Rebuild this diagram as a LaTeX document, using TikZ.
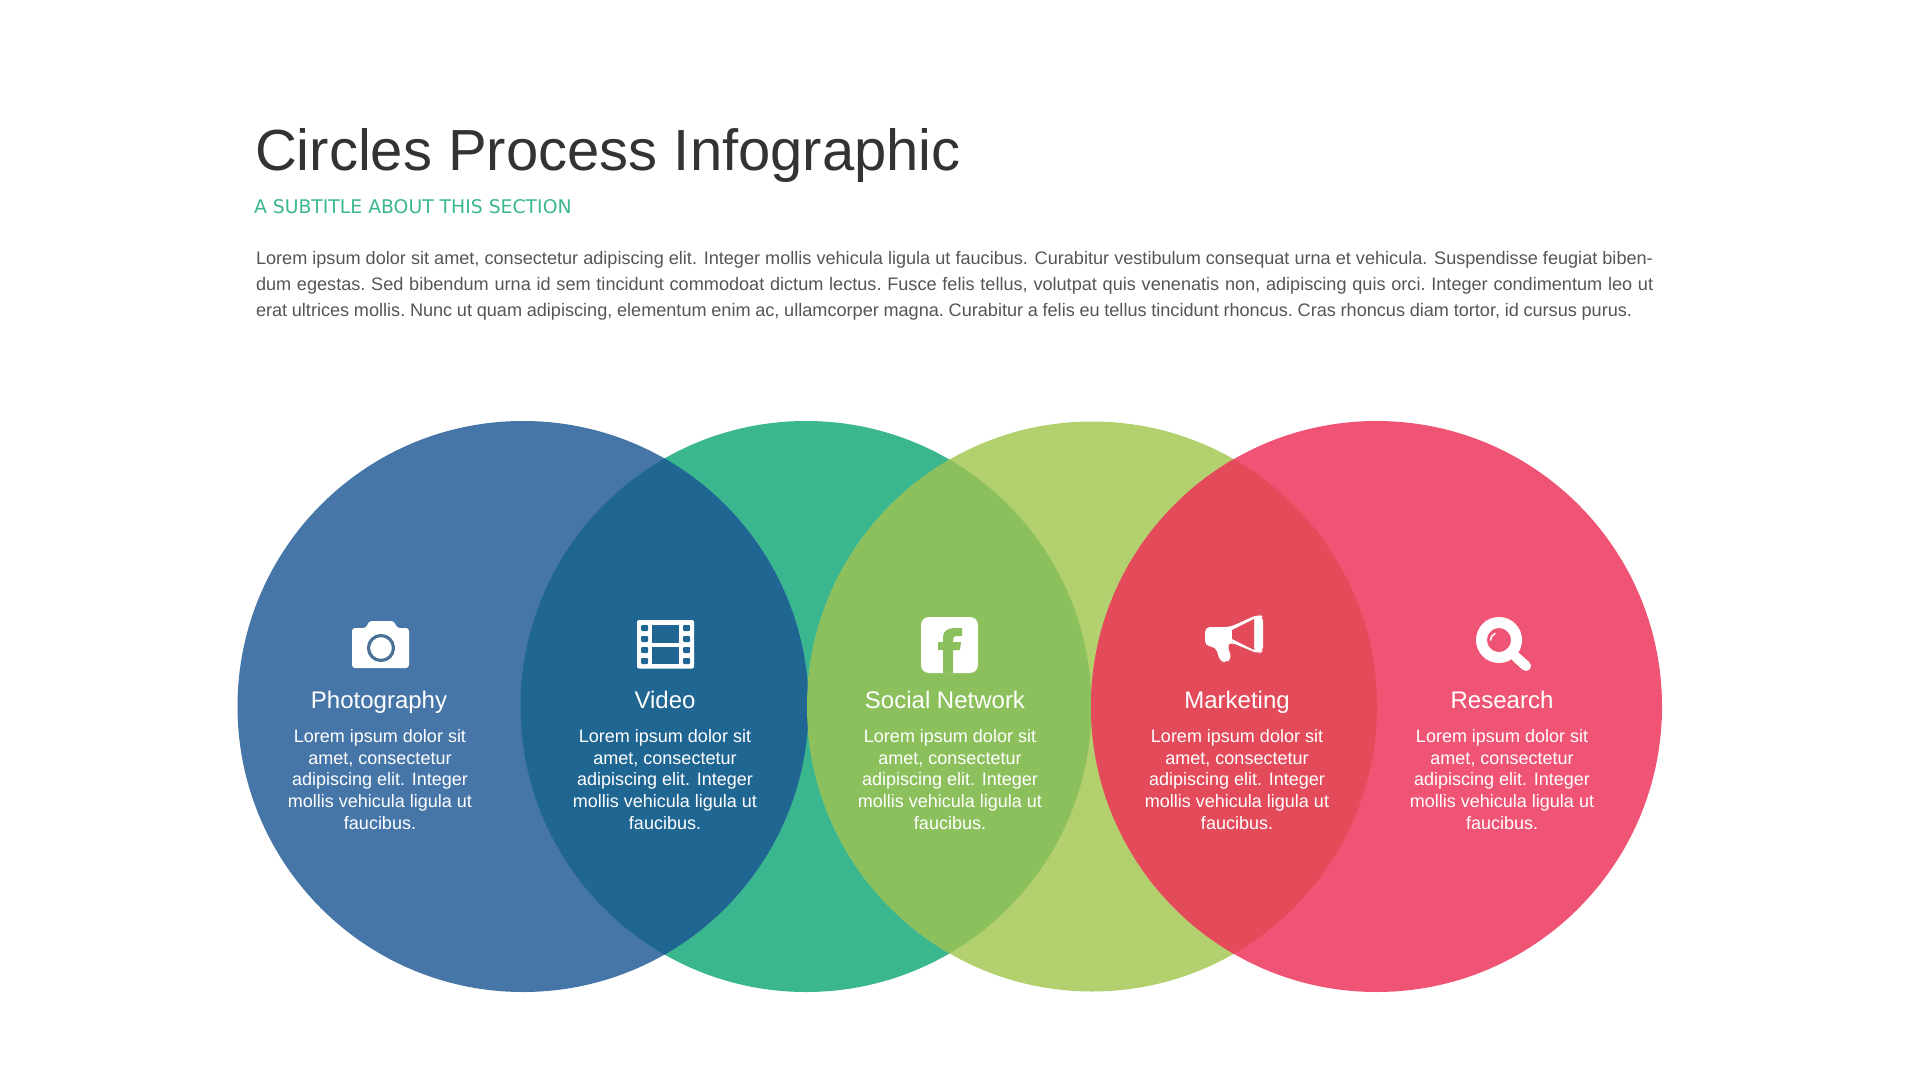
\documentclass[tikz,border=0pt]{standalone}
\usepackage{fontspec}
\setmainfont{Liberation Sans}
\newfontfamily\verd{DejaVu Sans}
\definecolor{cblue}{HTML}{4676A8}
\definecolor{cgreen}{HTML}{3AB78F}
\definecolor{colive}{HTML}{B3D06F}
\definecolor{cred}{HTML}{F05475}
\definecolor{ovblue}{HTML}{206693}
\definecolor{ovolive}{HTML}{8CC05C}
\definecolor{ovred}{HTML}{E34B5B}
\definecolor{titlecol}{HTML}{333333}
\definecolor{bodycol}{HTML}{555555}
\definecolor{ringcol}{HTML}{4E7198}
\tikzset{
  lineleft/.style={anchor=base west,inner sep=0pt,outer sep=0pt},
  bodyline/.style={lineleft,text=bodycol,font=\fontsize{9.06}{11}\selectfont},
  cardhd/.style={anchor=base,inner sep=0pt,text=white,font=\fontsize{12}{14}\selectfont},
  cardtx/.style={anchor=north,inner sep=0pt,text=white,align=center,font=\fontsize{9.0}{10.85}\selectfont},
  icon/.style={fill=white,draw=none},
}
\begin{document}
\begin{tikzpicture}[x=0.5pt,y=-0.5pt]
\useasboundingbox (0,0) rectangle (1920,1080);
\fill[white] (0,0) rectangle (1920,1080);
% circles
\fill[cgreen] (806,706.5) circle[radius=285.5];
\fill[colive] (1092,706.5) circle[radius=285];
\fill[cred] (1376.5,706.5) circle[radius=285.5];
\fill[cblue] (523,706.5) circle[radius=285.5];
\begin{scope}\clip (523,706.5) circle[radius=285.5];
\fill[ovblue] (806,706.5) circle[radius=285.5];\end{scope}
\begin{scope}\clip (806,706.5) circle[radius=285.5];
\fill[ovolive] (1092,706.5) circle[radius=285];\end{scope}
\begin{scope}\clip (1092,706.5) circle[radius=285];
\fill[ovred] (1376.5,706.5) circle[radius=285.5];\end{scope}
% header
\node[lineleft,text=titlecol,font=\fontsize{29}{32}\selectfont] (title) at (255,171) {Circles Process Infographic};
\node[lineleft,text=cgreen,font=\verd\fontsize{9.4}{11}\selectfont] (sub) at (254,214) {A SUBTITLE ABOUT THIS SECTION};
\node[bodyline] (b1) at (256,264.5) {Lorem ipsum dolor sit amet, consectetur adipiscing elit. Integer mollis vehicula ligula ut faucibus. Curabitur vestibulum consequat urna et vehicula. Suspendisse feugiat biben-};
\node[bodyline] (b2) at (256,290.5) {\spaceskip=2.88pt\xspaceskip=2.88pt dum egestas. Sed bibendum urna id sem tincidunt commodoat dictum lectus. Fusce felis tellus, volutpat quis venenatis non, adipiscing quis orci. Integer condimentum leo ut};
\node[bodyline] (b3) at (256,316.5) {\spaceskip=2.345pt\xspaceskip=2.345pt erat ultrices mollis. Nunc ut quam adipiscing, elementum enim ac, ullamcorper magna. Curabitur a felis eu tellus tincidunt rhoncus. Cras rhoncus diam tortor, id cursus purus.};
% cards
\newcommand{\cardtext}{Lorem ipsum dolor sit\\amet, consectetur\\adipiscing elit. Integer\\mollis vehicula ligula ut\\faucibus.}
\node[cardhd] (h1) at (379,708) {Photography};
\node[cardhd] (h2) at (665,708) {Video};
\node[cardhd] (h3) at (945,708) {Social Network};
\node[cardhd] (h4) at (1237,708) {Marketing};
\node[cardhd] (h5) at (1502,708) {Research};
\node[cardtx] (t1) at (380,729) {\cardtext};
\node[cardtx] (t2) at (665,729) {\cardtext};
\node[cardtx] (t3) at (950,729) {\cardtext};
\node[cardtx] (t4) at (1237,729) {\cardtext};
\node[cardtx] (t5) at (1502,729) {\cardtext};
% camera
\fill[icon,rounded corners=1.5pt] (352,628) -- (366,628) -- (369,621) -- (394,621) -- (397,628) -- (409,628) -- (409,668) -- (352,668) -- cycle;
\draw[ringcol,line width=1.6pt] (381,648) circle[radius=12.5];
% film
\fill[icon,rounded corners=1pt] (637,620) rectangle (694,668.5);
\fill[ovblue] (652,625) rectangle (679,643);
\fill[ovblue] (652,647) rectangle (679,664);
\foreach \hy in {625,636,647,658}{
  \fill[ovblue,rounded corners=.5pt] (641,\hy) rectangle (648,\hy+6);
  \fill[ovblue,rounded corners=.5pt] (683,\hy) rectangle (690,\hy+6);
}
% facebook
\fill[icon,rounded corners=4pt] (921,617) rectangle (978,673);
\fill[ovolive] (943,673) -- (943,650) -- (938,650) -- (938,642) -- (943,642) -- (943,637)
  .. controls (943,631) and (948,628) .. (954,628) -- (962,628) -- (962,636) -- (958,636)
  .. controls (954,636) and (953,637) .. (953,640) -- (953,642) -- (961,642) -- (960,650) -- (953,650) -- (953,673) -- cycle;
% megaphone
\fill[icon,rounded corners=2.5pt] (1205,627) -- (1230,627) -- (1259,614) -- (1263,617) -- (1263,651) -- (1259,654) -- (1230,642) -- (1227,645) -- (1232,659) -- (1226,662) -- (1220,662) -- (1216,647) -- (1205,646) -- cycle;
\fill[ovred] (1232,630) -- (1254,619) -- (1254,650) -- (1232,639) -- cycle;
% magnifier
\draw[white,line width=5.5pt] (1499,640) circle[radius=17.5];
\draw[white,line width=5pt,line cap=round] (1516,657) -- (1526,666);
\draw[white,line width=.8pt,line cap=round] (1490.5,640) .. controls (1491,637) and (1492,635) .. (1495,633.5);
\end{tikzpicture}
\end{document}
